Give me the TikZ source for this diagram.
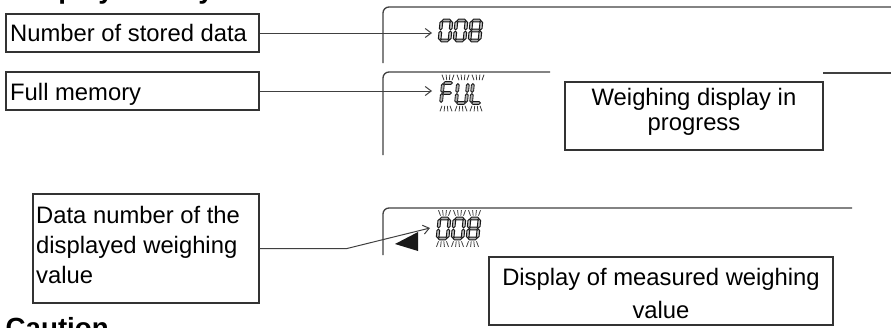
\documentclass[tikz,border=0pt]{standalone}
\usepackage{fontspec}
\setmainfont{Liberation Sans}
\usetikzlibrary{arrows.meta}
\newcommand\hsg[3]{\draw[segline] (#1,#3) -- ({#1+1.4},{#3-1.4}) -- ({#2-1.4},{#3-1.4}) -- (#2,#3) -- ({#2-1.4},{#3+1.4}) -- ({#1+1.4},{#3+1.4}) -- cycle;}
\newcommand\vsg[3]{\draw[segline] (#1,#2) -- ({#1+1.4},{#2+1.4}) -- ({#1+1.4},{#3-1.4}) -- (#1,#3) -- ({#1-1.4},{#3-1.4}) -- ({#1-1.4},{#2+1.4}) -- cycle;}
\newcommand\sgA{\hsg{0.6}{9.4}{0}}
\newcommand\sgG{\hsg{0.6}{9.4}{10}}
\newcommand\sgD{\hsg{0.6}{9.4}{20}}
\newcommand\sgF{\vsg{0}{0.6}{9.4}}
\newcommand\sgB{\vsg{10}{0.6}{9.4}}
\newcommand\sgE{\vsg{0}{10.6}{19.4}}
\newcommand\sgC{\vsg{10}{10.6}{19.4}}
\newcommand\lcdchar[3]{\begin{scope}[shift={(#1,#2)},xslant=0.1]\foreach \s in {#3}{\csname sg\s\endcsname}\end{scope}}
\newcommand\blinkrays[2]{%
  \foreach \dx/\ex in {-4/-6,-1.3/-1.9,1.3/1.9,4/6}{%
    \draw[ray] ({#1+5+\dx},{#2-2.8}) -- ({#1+5+\ex},{#2-8.3});
    \draw[ray] ({#1+3+\dx},{#2+22.8}) -- ({#1+3+\ex},{#2+28.3});
  }}
\begin{document}
\begin{tikzpicture}[x=1pt,y=-1pt,
  box/.style={draw=black!80,line width=1.4pt,inner sep=0pt},
  lbl/.style={font=\fontsize{23.8}{28}\selectfont,inner sep=0pt,text=black},
  hdg/.style={font=\bfseries\fontsize{27.7}{30}\selectfont,inner sep=0pt,text=black},
  conn/.style={draw=black!75,line width=1pt},
  arr/.style={conn,-{Straight Barb[length=6pt,width=9pt]}},
  frame/.style={draw=black!75,line width=1.3pt,rounded corners=6pt},
  segline/.style={draw=black!90,line width=0.85pt,fill=black!30,line join=miter},
  ray/.style={draw=black!80,line width=0.75pt}]
\useasboundingbox (0,0) rectangle (891,327);
\clip (0,0) rectangle (891,327);

% cut-off headings
\node[hdg,anchor=base west] (hd) at (15,-2) {Display history};
\node[hdg,anchor=base west] (cau) at (5.5,337) {Caution};

% display frames
\draw[frame] (383,63) -- (383,7) -- (895,7);
\draw[frame] (383,155) -- (383,72) -- (550,72);
\draw[frame] (823,73) -- (895,73);
\draw[frame] (383,255) -- (383,208) -- (852,208);

% label boxes
\node[box,minimum width=253pt,minimum height=38pt] (b1) at (132.5,33) {};
\node[lbl,anchor=base west] (t1) at (10,41) {Number of stored data};
\node[box,minimum width=253pt,minimum height=38pt] (b2) at (132.5,91) {};
\node[lbl,anchor=base west] (t2) at (10,100) {Full memory};
\node[box,minimum width=226pt,minimum height=109pt] (b3) at (146,248.5) {};
\node[lbl,anchor=base west] (t3a) at (36,223) {Data number of the};
\node[lbl,anchor=base west] (t3b) at (36,253) {displayed weighing};
\node[lbl,anchor=base west] (t3c) at (36,283) {value};
\node[box,minimum width=258pt,minimum height=68pt] (b4) at (694,116) {};
\node[lbl,anchor=base] (t4a) at (694,105) {Weighing display in};
\node[lbl,anchor=base] (t4b) at (694,130) {progress};
\node[box,minimum width=344pt,minimum height=68pt] (b5) at (661,291) {};
\node[lbl,anchor=base] (t5a) at (661,285) {Display of measured weighing};
\node[lbl,anchor=base] (t5b) at (661,318) {value};

% connectors
\coordinate (p1) at (432,33);
\coordinate (p2) at (432,91);
\coordinate (k3) at (347,248.5);
\coordinate (p3) at (430,228);
\draw[arr] (b1.east) -- (p1);
\draw[arr] (b2.east) -- (p2);
\draw[arr] (b3.east) -- (k3) -- (p3);

% left-pointing marker
\fill[black!90] (395,244) -- (418,232) -- (418,251) -- cycle;

% 008 (stored count)
\lcdchar{441.5}{20.5}{A,B,C,D,E,F}
\lcdchar{456.5}{20.5}{A,B,C,D,E,F}
\lcdchar{471.5}{20.5}{A,B,C,D,E,F,G}

% FUL (blinking)
\lcdchar{443}{83}{A,F,E,G}
\lcdchar{458}{83}{F,E,D,C,B}
\lcdchar{473}{83}{F,E,D}
\blinkrays{443}{83}
\blinkrays{458}{83}
\blinkrays{473}{83}

% 008 (blinking)
\lcdchar{439.5}{218.5}{A,B,C,D,E,F}
\lcdchar{454.5}{218.5}{A,B,C,D,E,F}
\lcdchar{469.5}{218.5}{A,B,C,D,E,F,G}
\blinkrays{439.5}{218.5}
\blinkrays{454.5}{218.5}
\blinkrays{469.5}{218.5}
\end{tikzpicture}
\end{document}
